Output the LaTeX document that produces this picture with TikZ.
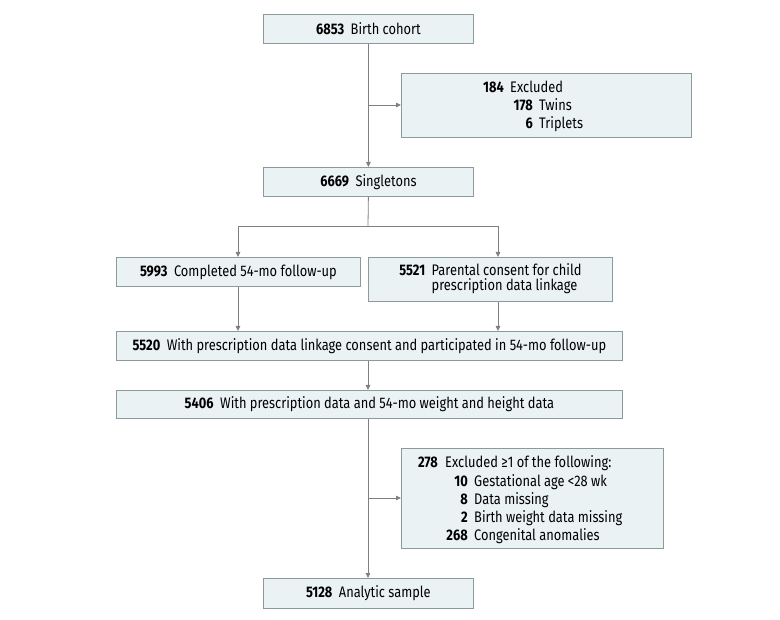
\documentclass[tikz,border=0pt]{standalone}
\usepackage{fontspec}
\setmainfont{Fira Sans}[FakeStretch=0.84]
\usetikzlibrary{arrows.meta}
\definecolor{boxfill}{HTML}{EAF2F4}
\definecolor{boxdraw}{HTML}{8C9A9E}
\definecolor{linec}{HTML}{808080}
\begin{document}
\begin{tikzpicture}[x=1pt,y=-1pt,
  box/.style={draw=boxdraw,fill=boxfill,line width=0.8pt,anchor=north west,inner sep=0pt,font=\fontsize{15.3}{17.5}\selectfont},
  conn/.style={draw=linec,line width=0.8pt},
  arr/.style={conn,-{Triangle[length=5pt,width=4.5pt]}},
  lbl/.style={inner sep=0pt,font=\fontsize{15.3}{17.5}\selectfont}]
\useasboundingbox (0,0) rectangle (780,620);
\fill[white] (0,0) rectangle (780,620);
% boxes
\node[box,minimum width=210pt,minimum height=29pt] (b1) at (263,14) {\textbf{6853}\hspace{6.5pt}Birth cohort};
\node[box,minimum width=290pt,minimum height=64pt] (ex1) at (401,73) {};
\node[box,minimum width=210pt,minimum height=29pt] (b2) at (263,167) {\textbf{6669}\hspace{6.5pt}Singletons};
\node[box,minimum width=244pt,minimum height=29pt] (b3) at (116,257) {\textbf{5993}\hspace{6.5pt}Completed 54-mo follow-up};
\node[box,minimum width=244pt,minimum height=44pt] (b4) at (368,257) {\begin{tabular}{@{}r@{\hspace{6.5pt}}l@{}}\textbf{5521} & Parental consent for child\\[-3pt] & prescription data linkage\end{tabular}};
\node[box,minimum width=506pt,minimum height=29pt] (b5) at (116,331) {\textbf{5520}\hspace{6.5pt}With prescription data linkage consent and participated in 54-mo follow-up};
\node[box,minimum width=506pt,minimum height=28pt] (b6) at (116,390) {\textbf{5406}\hspace{6.5pt}With prescription data and 54-mo weight and height data};
\node[box,minimum width=262pt,minimum height=100pt] (ex2) at (401,448) {};
\node[box,minimum width=210pt,minimum height=30pt] (b7) at (263,578) {\textbf{5128}\hspace{6.5pt}Analytic sample};
% excluded 1 text
\node[lbl,anchor=base east] (e1n) at (504,93) {\textbf{184}};
\node[lbl,anchor=base west] (e1t) at (510,93) {Excluded};
\node[lbl,anchor=base east] (e2n) at (533,111) {\textbf{178}};
\node[lbl,anchor=base west] (e2t) at (539,111) {Twins};
\node[lbl,anchor=base east] (e3n) at (533,128.5) {\textbf{6}};
\node[lbl,anchor=base west] (e3t) at (539,128.5) {Triplets};
% excluded 2 text
\node[lbl,anchor=base east] (f1n) at (438,468) {\textbf{278}};
\node[lbl,anchor=base west] (f1t) at (445,468) {Excluded ≥1 of the following:};
\node[lbl,anchor=base east] (f2n) at (468,486) {\textbf{10}};
\node[lbl,anchor=base west] (f2t) at (474,486) {Gestational age <28 wk};
\node[lbl,anchor=base east] (f3n) at (468,504) {\textbf{8}};
\node[lbl,anchor=base west] (f3t) at (474,504) {Data missing};
\node[lbl,anchor=base east] (f4n) at (468,522) {\textbf{2}};
\node[lbl,anchor=base west] (f4t) at (474,522) {Birth weight data missing};
\node[lbl,anchor=base east] (f5n) at (468,540) {\textbf{268}};
\node[lbl,anchor=base west] (f5t) at (474,540) {Congenital anomalies};
% connectors
\coordinate (j1) at (368,105);
\draw[arr] (b1.south) -- (b2.north);
\draw[arr] (j1) -- (ex1.west |- j1);
\coordinate (j2) at (368,226);
\coordinate (aL) at (238,226);
\coordinate (aR) at (498,226);
\draw[conn] (b2.south) -- (j2);
\draw[conn] (aL) -- (aR);
\draw[arr] (aL) -- (aL |- b3.north);
\draw[arr] (aR) -- (aR |- b4.north);
\draw[arr] (aL |- b3.south) -- (aL |- b5.north);
\draw[arr] (aR |- b4.south) -- (aR |- b5.north);
\draw[arr] (j2 |- b5.south) -- (j2 |- b6.north);
\coordinate (j3) at (368,498);
\draw[arr] (j2 |- b6.south) -- (j2 |- b7.north);
\draw[arr] (j3) -- (ex2.west |- j3);
\end{tikzpicture}
\end{document}
